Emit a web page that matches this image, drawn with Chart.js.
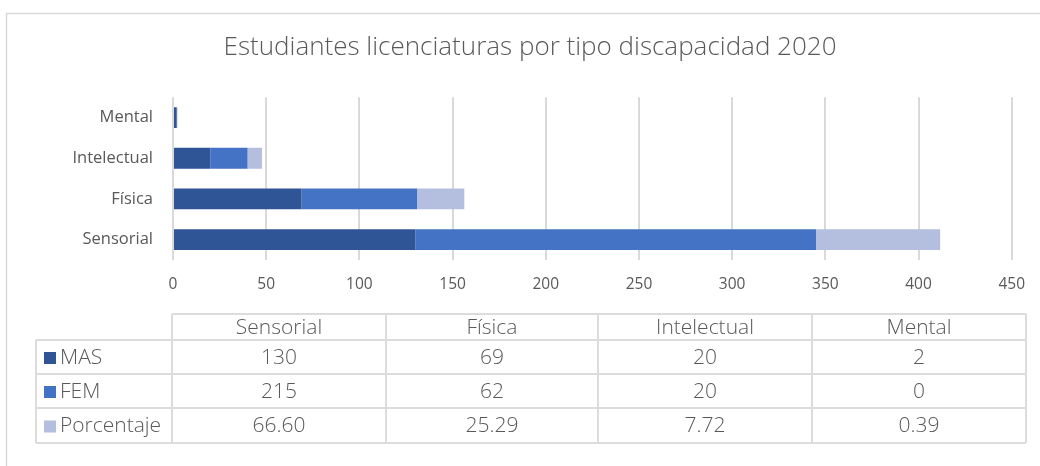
<!DOCTYPE html>
<html>
<head>
<meta charset="utf-8">
<script src="https://cdn.jsdelivr.net/npm/chart.js@4"></script>
<style>
  html, body { margin: 0; padding: 0; background: #fff; }
  #wrap { width: 1040px; height: 466px; }
</style>
</head>
<body>
<div id="wrap"><canvas id="chart-1" width="1040" height="466"></canvas></div>
<script>
const categories = ['Sensorial', 'Física', 'Intelectual', 'Mental'];
const masValues = [130, 69, 20, 2];
const femValues = [215, 62, 20, 0];
const pctValues = [66.60, 25.29, 7.72, 0.39];
const pctLabels = ['66.60', '25.29', '7.72', '0.39'];
const seriesNames = ['MAS', 'FEM', 'Porcentaje'];
const seriesColors = ['#2F5597', '#4472C4', '#B4BFE0'];
const xTicks = [0, 50, 100, 150, 200, 250, 300, 350, 400, 450];

const textColor = '#595959';
const lineColor = '#D9D9D9';
const fontFamily = '"Open Sans", sans-serif';

// data table + outer frame drawn under the chart
const tablePlugin = {
  id: 'dataTable',
  afterDraw(chart) {
    const c = chart.ctx;
    c.save();
    // outer frame
    c.strokeStyle = lineColor;
    c.lineWidth = 1.5;
    c.strokeRect(6.5, 13.5, 1100, 600);

    const colX = [36, 172, 386, 598, 812, 1026];
    const rowY = [314, 340, 374, 408, 443];
    c.lineWidth = 2;
    c.strokeStyle = '#DCDCDC';
    c.beginPath();
    // header row (no top-left cell)
    c.moveTo(colX[1], rowY[0]); c.lineTo(colX[5], rowY[0]);
    for (let r = 1; r < rowY.length; r++) {
      c.moveTo(colX[0], rowY[r]); c.lineTo(colX[5], rowY[r]);
    }
    for (let i = 1; i < colX.length; i++) {
      c.moveTo(colX[i], rowY[0]); c.lineTo(colX[i], rowY[4]);
    }
    c.moveTo(colX[0], rowY[1]); c.lineTo(colX[0], rowY[4]);
    c.stroke();

    c.fillStyle = textColor;
    c.font = '300 21px ' + fontFamily;
    c.textAlign = 'center';
    c.textBaseline = 'middle';
    categories.forEach((cat, i) => {
      c.fillText(cat, (colX[i + 1] + colX[i + 2]) / 2, (rowY[0] + rowY[1]) / 2 + 1);
    });
    const rows = [masValues.map(String), femValues.map(String), pctLabels];
    rows.forEach((vals, r) => {
      const cy = (rowY[r + 1] + rowY[r + 2]) / 2 + 1;
      c.fillStyle = seriesColors[r];
      c.fillRect(colX[0] + 8, cy - 6, 12, 12);
      c.fillStyle = textColor;
      c.textAlign = 'left';
      c.fillText(seriesNames[r], colX[0] + 24, cy);
      c.textAlign = 'center';
      vals.forEach((v, i) => {
        c.fillText(v, (colX[i + 1] + colX[i + 2]) / 2, cy);
      });
    });
    c.restore();
  }
};

const ctx1 = document.getElementById('chart-1');

new Chart(ctx1, {
  type: 'bar',
  data: {
    labels: categories,
    datasets: [
      { label: seriesNames[0], data: masValues, backgroundColor: seriesColors[0] },
      { label: seriesNames[1], data: femValues, backgroundColor: seriesColors[1] },
      { label: seriesNames[2], data: pctValues, backgroundColor: seriesColors[2] }
    ].map(d => Object.assign(d, {
      barPercentage: 0.51,
      categoryPercentage: 1,
      borderWidth: { left: 1, right: 0, top: 0, bottom: 0 },
      borderColor: 'rgba(255,255,255,0.35)'
    }))
  },
  options: {
    indexAxis: 'y',
    responsive: false,
    animation: false,
    layout: { padding: { left: 48, right: 28, top: 32, bottom: 166 } },
    plugins: {
      legend: { display: false },
      tooltip: { enabled: false },
      title: {
        display: true,
        text: 'Estudiantes licenciaturas por tipo discapacidad 2020',
        color: textColor,
        font: { family: fontFamily, size: 26, weight: '300' },
        padding: { top: 0, bottom: 34 }
      }
    },
    scales: {
      x: {
        stacked: true,
        min: 0,
        max: 450,
        afterBuildTicks(scale) { scale.ticks = xTicks.map(v => ({ value: v })); },
        afterFit(scale) { scale.height = 40; },
        grid: { color: lineColor, lineWidth: 2, drawTicks: false },
        border: { display: false },
        ticks: { color: textColor, font: { family: fontFamily, size: 15.5 }, padding: 15 }
      },
      y: {
        stacked: true,
        reverse: true,
        afterFit(scale) { scale.width = 125; },
        grid: { display: false },
        border: { display: false },
        ticks: { color: textColor, font: { family: fontFamily, size: 16.5 }, padding: 12 }
      }
    }
  },
  plugins: [tablePlugin]
});
</script>
</body>
</html>
